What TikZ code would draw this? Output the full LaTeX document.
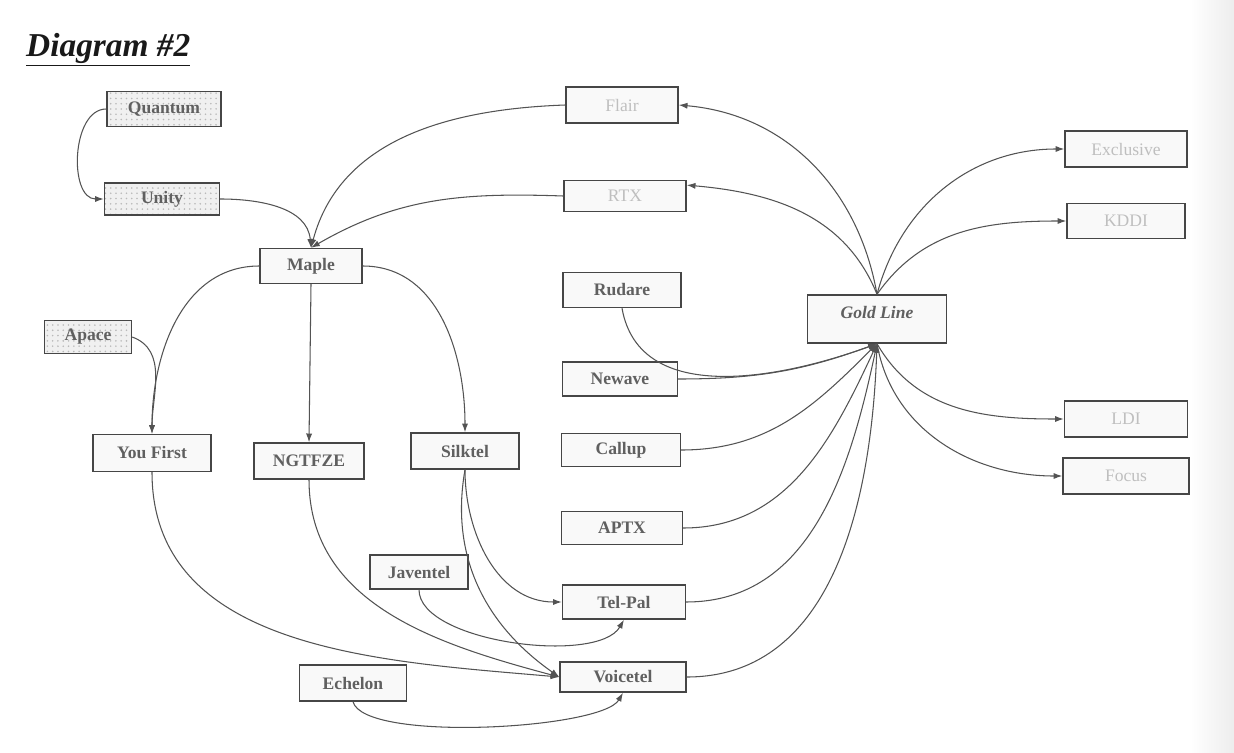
\documentclass[tikz,border=0pt]{standalone}
\usepackage{fontspec}
\setmainfont{Liberation Serif}
\usetikzlibrary{arrows.meta,patterns}
\tikzset{
	firm/.style={draw=gray!55!black, line width=0.8pt, fill=gray!5, inner sep=0pt,
			minimum height=0.7cm, text=gray!75!black, font=\fontsize{10}{12}\selectfont\bfseries},
	faint/.style={firm, text=gray!50, font=\fontsize{10}{12}\selectfont},
	speckled/.style={firm, preaction={fill=gray!12}, pattern=dots, pattern color=gray!55},
	link/.style={draw=gray!65!black, line width=0.6pt, -{Latex[length=5pt,width=3.5pt]}}
}

\begin{document}
\begin{tikzpicture}[x=0.02cm,y=0.02cm]
		\useasboundingbox (0,0) rectangle (1234,752);
		\shade[left color=white,right color=gray!14,draw=none] (1190,0) rectangle (1234,752);
		\node[anchor=west,text=gray!20!black,font=\fontsize{19}{22}\selectfont\bfseries\itshape] (title) at (20,702) {\underline{Diagram \#2}};
		% left tree
		\node[speckled,minimum width=2.28cm] (quantum) at (164,643) {Quantum};
		\node[speckled,minimum width=2.3cm,minimum height=0.64cm] (unity) at (162,553) {Unity};
		\node[firm,minimum width=2.04cm] (maple) at (311,486) {Maple};
		\node[speckled,minimum width=1.74cm,minimum height=0.66cm] (apace) at (88,415) {Apace};
		\node[firm,minimum width=2.36cm,minimum height=0.74cm] (youfirst) at (152,299) {You First};
		\node[firm,minimum width=2.2cm,minimum height=0.72cm] (ngtfze) at (309,291) {NGTFZE};
		\node[firm,minimum width=2.16cm,minimum height=0.72cm] (silktel) at (465,301) {Silktel};
		\node[firm,minimum width=1.96cm,minimum height=0.68cm] (javentel) at (419,180) {Javentel};
		\node[firm,minimum width=2.14cm,minimum height=0.72cm] (echelon) at (353,69) {Echelon};
		% middle column
		\node[faint,minimum width=2.24cm,minimum height=0.72cm] (flair) at (622,647) {Flair};
		\node[faint,minimum width=2.44cm,minimum height=0.62cm] (rtx) at (625,556) {RTX};
		\node[firm,minimum width=2.36cm] (rudare) at (622,462) {Rudare};
		\node[firm,minimum width=2.3cm,minimum height=0.68cm] (newave) at (620,373) {Newave};
		\node[firm,minimum width=2.38cm,minimum height=0.66cm] (callup) at (621,302) {Callup};
		\node[firm,minimum width=2.42cm,minimum height=0.66cm] (aptx) at (622,224) {APTX};
		\node[firm,minimum width=2.46cm,minimum height=0.68cm] (telpal) at (624,150) {Tel-Pal};
		\node[firm,minimum width=2.52cm,minimum height=0.6cm] (voicetel) at (623,75) {Voicetel};
		% right side
		\node[firm,minimum width=2.78cm,minimum height=0.96cm,font=\fontsize{10}{12}\selectfont\bfseries\itshape] (gold) at (877,433) {\raisebox{7pt}{Gold Line}};
		\node[faint,minimum width=2.44cm,minimum height=0.72cm] (exclusive) at (1126,603) {Exclusive};
		\node[faint,minimum width=2.36cm] (kddi) at (1126,531) {KDDI};
		\node[faint,minimum width=2.46cm,minimum height=0.72cm] (ldi) at (1126,333) {LDI};
		\node[faint,minimum width=2.52cm,minimum height=0.72cm] (focus) at (1126,276) {Focus};

		% into Maple and below it
		\draw[link] (quantum.west) to[out=180,in=180] (unity.west);
		\draw[link] (unity.east) to[out=0,in=95] (maple.north);
		\draw[link] (flair.west) to[out=182,in=75] (maple.north);
		\draw[link] (rtx.west) to[out=178,in=30] (maple.north);
		\draw[link] (maple.west) to[out=180,in=90] (youfirst.north);
		\draw[link] (apace.east) to[out=-20,in=90] (youfirst.north);
		\draw[link] (maple.south) -- (ngtfze.north);
		\draw[link] (maple.east) to[out=0,in=90] (silktel.north);
		\draw[link] (youfirst.south) to[out=-90,in=175] (voicetel.west);
		\draw[link] (ngtfze.south) to[out=-90,in=165] (voicetel.west);
		\draw[link] (silktel.south) to[out=-90,in=180] (telpal.west);
		\draw[link] (silktel.south) to[out=-100,in=145] (voicetel.west);
		\draw[link] (javentel.south) to[out=-90,in=-120,looseness=0.65] (telpal.south);
		\draw[link] (echelon.south) to[out=-75,in=-120,looseness=0.4] (voicetel.south);
		% out of Gold Line
		\draw[link] (gold.north) to[out=100,in=-5] (flair.east);
		\draw[link] (gold.north) to[out=112,in=-5] (rtx.10);
		\draw[link] (gold.north) to[out=75,in=180] (exclusive.west);
		\draw[link] (gold.north) to[out=55,in=180] (kddi.west);
		\draw[link] (gold.south) to[out=-60,in=180] (ldi.west);
		\draw[link] (gold.south) to[out=-80,in=180] (focus.west);
		% into Gold Line
		\draw[link] (rudare.south) to[out=-80,in=200] (gold.south);
		\draw[link] (newave.east) to[out=0,in=200] (gold.south);
		\draw[link] (callup.east) to[out=0,in=225] (gold.south);
		\draw[link] (aptx.east) to[out=0,in=245] (gold.south);
		\draw[link] (telpal.east) to[out=0,in=258] (gold.south);
		\draw[link] (voicetel.east) to[out=0,in=268] (gold.south);
	\end{tikzpicture}
\end{document}
